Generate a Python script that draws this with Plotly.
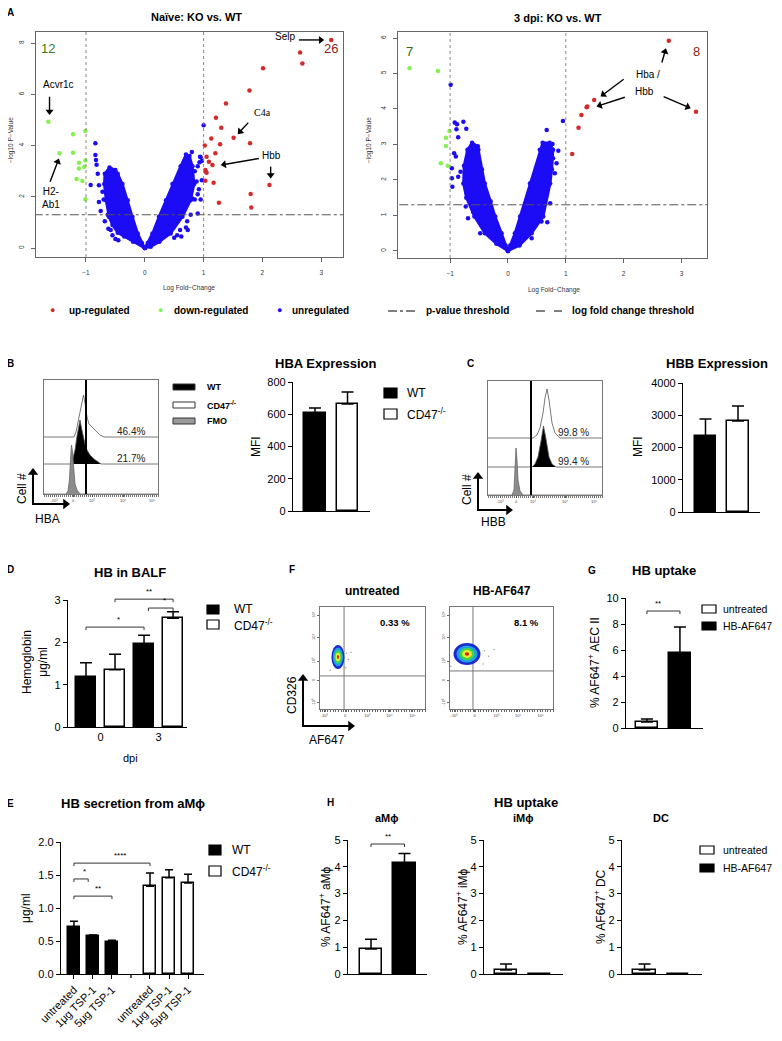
import math
import plotly.graph_objects as go

# page body has an 8px margin: the figure is sized/shifted so that its pixels land
# on the reference's 782x1041 window coordinates
PAGE_OFF = 8
W, H = 782, 1041
FW, FH = W - 2 * PAGE_OFF, H - 2 * PAGE_OFF
FONT = "Liberation Sans, Arial, sans-serif"
SERIF = "Liberation Serif, Times New Roman, serif"
BLUE = "#1c0cf5"
GREEN = "#86f04e"
RED = "#d42a2a"

# ================= DATA =================
# ---- A: volcano, naive (log fold change, -log10 p) ----
naive_up_lfc = [3.17, 2.64, 2.68, 2.01, 1.78, 1.38, 1.21, 1.30, 1.13, 1.51, 1.02, 1.28, 1.79,
                1.20, 1.05, 1.09, 1.15, 1.03, 1.05, 1.03, 1.17, 2.12, 1.80, 1.26, 1.81, 1.04]
naive_up_p = [8.13, 7.64, 7.21, 7.02, 6.15, 5.65, 5.09, 4.70, 4.28, 4.31, 4.01, 4.05, 4.09,
              3.70, 3.57, 3.37, 3.24, 3.05, 2.94, 2.63, 2.55, 2.46, 2.11, 1.77, 1.58, 2.98]
naive_down_lfc = [-1.64, -1.45, -1.22, -1.01, -1.22, -1.12, -1.12, -1.01, -1.16, -1.06, -1.01, -1.03]
naive_down_p = [4.93, 3.70, 4.45, 4.57, 3.72, 3.33, 3.11, 3.42, 2.70, 2.62, 1.91, 3.18]
naive_blue_lfc = [-0.84, -0.84, -0.83, -0.82, -0.92, -0.80, -0.78, -0.72, -0.70, -0.78, -0.75, -0.63,
                  -0.68, -0.62, -0.58, -0.55, -0.50, -0.45, 0.50, 0.55, 0.60, 0.70, 0.72, 0.78, 0.85,
                  0.90, 0.92, 0.95, 0.88, 0.85, 0.90, 0.95, 0.97, 0.93, 1.00, 0.94, 0.97, 0.80, 0.62,
                  0.81, 0.90, 0.73]
naive_blue_p = [4.09, 3.63, 3.44, 3.25, 2.46, 2.90, 2.45, 2.20, 1.90, 1.80, 1.45, 1.30,
                1.05, 0.75, 0.70, 0.50, 0.35, 0.30, 0.40, 0.50, 0.70, 0.80, 1.05, 1.30, 1.90,
                2.10, 2.30, 1.90, 2.60, 3.00, 3.20, 3.55, 2.65, 3.35, 4.80, 3.57, 3.40, 3.75, 0.45,
                1.94, 1.35, 0.70]
# dense cloud outline (naive)
naive_left_lfc = [0, -0.2, -0.35, -0.46, -0.55, -0.61, -0.66, -0.69, -0.68, -0.6, -0.5, -0.46,
                  -0.38, -0.29, -0.21, -0.12, -0.05, 0]
naive_left_p = [0, 0.25, 0.45, 0.6, 0.9, 1.22, 1.87, 2.5, 2.9, 3.15, 3.05, 2.9,
                2.5, 1.87, 1.22, 0.57, 0.2, 0]
naive_right_lfc = [0, 0.05, 0.13, 0.24, 0.36, 0.47, 0.61, 0.70, 0.76, 0.81, 0.84, 0.78, 0.64, 0.44,
                   0.25, 0.1, 0]
naive_right_p = [0, 0.2, 0.57, 1.22, 1.87, 2.5, 3.2, 3.65, 3.6, 3.2, 2.5, 1.87, 1.22, 0.57,
                 0.25, 0.05, 0]

# ---- A: volcano, 3 dpi ----
dpi_up_lfc = [2.78, 3.25, 1.49, 1.36, 1.27, 1.22, 1.11, 1.37]
dpi_up_p = [5.92, 3.92, 4.25, 4.05, 3.83, 3.47, 2.73, 4.07]
dpi_down_lfc = [-1.70, -1.21, -1.01, -1.07, -1.07, -1.16, -1.04]
dpi_down_p = [5.15, 5.07, 3.38, 3.19, 2.96, 2.47, 2.40]
dpi_blue_lfc = [-0.99, -0.92, -0.88, -0.77, -0.89, -0.72, -0.86, -0.93, -0.97, -0.97, -0.96, -0.90,
                -0.86, -0.82, -0.74, -0.70, -0.73, -0.69, -0.48, 0.67, 0.95, 0.87, 0.84, 0.81,
                0.77, 0.78, 0.73, 0.58, 0.68, 0.41, -0.60]
dpi_blue_p = [4.68, 3.62, 3.57, 3.64, 3.43, 3.44, 3.20, 2.75, 2.33, 2.05, 1.81, 2.66,
              2.09, 2.23, 2.19, 1.83, 1.25, 0.92, 0.50, 3.41, 3.66, 2.82, 2.47, 2.19,
              3.01, 2.61, 1.34, 0.83, 0.81, 0.36, 1.10]
dpi_left_lfc = [0, -0.2, -0.4, -0.58, -0.72, -0.77, -0.76, -0.70, -0.62, -0.52, -0.51, -0.45, -0.40,
                -0.30, -0.22, -0.11, -0.04, 0]
dpi_left_p = [0, 0.2, 0.5, 0.97, 1.5, 1.9, 2.4, 2.85, 3.05, 2.95, 2.85, 2.3, 1.9,
              1.4, 0.97, 0.5, 0.15, 0]
dpi_right_lfc = [0, 0.04, 0.12, 0.21, 0.38, 0.55, 0.60, 0.72, 0.78, 0.76, 0.73, 0.61, 0.41, 0.2, 0]
dpi_right_p = [0, 0.15, 0.5, 0.97, 1.9, 2.85, 3.05, 3.05, 2.85, 2.3, 1.9, 0.97, 0.5, 0.15, 0]

# ---- B/C: flow histograms (fluorescence position, count height) ----
hba_fmo_x = [0, 22, 24, 25.5, 26.5, 27.5, 28.5, 29.5, 31, 33, 36, 114]
hba_fmo_h = [0, 0, 3, 15, 35, 49, 42, 25, 10, 4, 0, 0]
hba_wt_x = [0, 27, 29, 31, 33, 34.5, 36, 37.5, 39, 41, 43, 46, 50, 54, 57, 114]
hba_wt_h = [0, 0, 6, 14, 28, 38, 44, 36, 28, 20, 14, 9, 5, 2, 0, 0]
hba_ko_x = [0, 30, 32, 34, 36, 38, 39.5, 41, 43, 45, 48, 52, 56, 60, 114]
hba_ko_h = [0, 0, 5, 15, 28, 38, 42, 34, 20, 13, 10, 6, 2, 0, 0]
hba_pct = ["46.4%", "21.7%"]
hbb_fmo_x = [0, 24, 26, 27, 28, 29, 30, 32, 35, 114]
hbb_fmo_h = [0, 0, 5, 25, 47, 35, 15, 4, 0, 0]
hbb_wt_x = [0, 44, 47, 50, 53, 55.5, 58, 61, 64, 68, 114]
hbb_wt_h = [0, 0, 3, 10, 26, 41, 28, 10, 3, 0, 0]
hbb_ko_x = [0, 45, 49, 52, 55, 57, 59, 61, 64, 67, 72, 114]
hbb_ko_h = [0, 0, 3, 10, 25, 40, 49, 38, 15, 5, 0, 0]
hbb_pct = ["99.8 %", "99.4 %"]
hist_tick_text = ["-10³", "0", "10³", "10⁴", "10⁵"]

# ---- B/C: MFI bars ----
genotypes = ["WT", "CD47<sup>-/-</sup>"]
hba_mfi = [608, 664]
hba_sem = [31, 74]
hbb_mfi = [2357, 2822]
hbb_sem = [527, 465]

# ---- D: HB in BALF ----
dpi_labels = ["0", "3"]
balf_wt = [1.18, 1.96]
balf_wt_sem = [0.34, 0.21]
balf_ko = [1.35, 2.57]
balf_ko_sem = [0.37, 0.15]

# ---- E: HB secretion ----
treatments = ["untreated", "1μg TSP-1", "5μg TSP-1"]
sec_wt = [0.71, 0.57, 0.49]
sec_wt_sem = [0.09, 0.02, 0.02]
sec_ko = [1.33, 1.46, 1.38]
sec_ko_sem = [0.20, 0.12, 0.13]

# ---- F: flow dot plots ----
f_titles = ["untreated", "HB-AF647"]
f_pct = ["0.33 %", "8.1 %"]
f_center_x = [17.1, 16.5]
f_center_y = [51.0, 53.9]
f_spread_x = [6.2, 13.1]
f_spread_y = [11.8, 10.8]
f_gate_x = [22.9, 22.3]
f_gate_y = [32.4, 37.3]

# ---- G: HB uptake AEC II ----
uptake_groups = ["untreated", "HB-AF647"]
aec_mean = [0.46, 5.77]
aec_sem = [0.23, 2.0]

# ---- H: HB uptake immune cells ----
cell_types = ["aMϕ", "iMϕ", "DC"]
cell_mean = [[0.93, 4.13], [0.15, 0.0], [0.15, 0.0]]
cell_sem = [[0.37, 0.37], [0.22, 0.0], [0.22, 0.0]]

# ================= FIGURE =================
fig = go.Figure()
layout = dict(width=FW, height=FH, margin=dict(l=0, r=0, t=0, b=0, pad=0), paper_bgcolor="white",
              plot_bgcolor="rgba(0,0,0,0)", showlegend=False, font=dict(family=FONT, color="black"))
ann, shp = [], []
ARROWS = []
AX = {}


def X(px):
    return (px - PAGE_OFF) / FW


def Y(py):
    return 1 - (py - PAGE_OFF) / FH


def axid(n):
    return ("x" if n == 1 else f"x{n}", "y" if n == 1 else f"y{n}")


def set_axes(n, xpx, ypx, xr, yr, xa=None, ya=None):
    xid, yid = axid(n)
    AX[n] = (xpx, ypx, xr, yr)
    xd = dict(domain=[X(xpx[0]), X(xpx[1])], range=xr, anchor=yid, showgrid=False, zeroline=False,
              automargin=False, fixedrange=True)
    yd = dict(domain=[Y(ypx[1]), Y(ypx[0])], range=yr, anchor=xid, showgrid=False, zeroline=False,
              automargin=False, fixedrange=True)
    xd.update(xa or {})
    yd.update(ya or {})
    layout["xaxis" if n == 1 else f"xaxis{n}"] = xd
    layout["yaxis" if n == 1 else f"yaxis{n}"] = yd


def d2p(n, x, y):
    xpx, ypx, xr, yr = AX[n]
    px = xpx[0] + (x - xr[0]) / (xr[1] - xr[0]) * (xpx[1] - xpx[0])
    py = ypx[1] - (y - yr[0]) / (yr[1] - yr[0]) * (ypx[1] - ypx[0])
    return px, py


def txt(px, py, s, size=11, bold=False, color="black", xanchor="center", angle=0, family=FONT):
    ann.append(dict(x=X(px), y=Y(py), xref="paper", yref="paper", text=(f"<b>{s}</b>" if bold else s),
                    showarrow=False, xanchor=xanchor, yanchor="middle", textangle=angle,
                    font=dict(size=size, color=color, family=family)))


def rect(x0, y0, x1, y1, fill, line="black", lw=1.2):
    shp.append(dict(type="rect", xref="paper", yref="paper", x0=X(x0), x1=X(x1), y0=Y(y1), y1=Y(y0),
                    fillcolor=fill, line=dict(color=line, width=lw)))


def pline(x0, y0, x1, y1, color="black", width=1, dash="solid"):
    shp.append(dict(type="line", xref="paper", yref="paper", x0=X(x0), x1=X(x1), y0=Y(y0), y1=Y(y1),
                    line=dict(color=color, width=width, dash=dash)))


def parrow(tx, ty, fx, fy, width=2, head=9):
    ARROWS.append((fx, fy, tx, ty, width, head))


def darrow(n, tx, ty, fx, fy, width=1.4, head=7):
    a = d2p(n, fx, fy)
    b = d2p(n, tx, ty)
    ARROWS.append((a[0], a[1], b[0], b[1], width, head))


def dtext(n, x, y, s, size=10, color="black", family=FONT):
    xid, yid = axid(n)
    ann.append(dict(x=x, y=y, xref=xid, yref=yid, text=s, showarrow=False,
                    font=dict(size=size, color=color, family=family)))


def bracket(n, x0, x1, y, label, drop=3, size=8):
    p0x, p0y = d2p(n, x0, y)
    p1x, _ = d2p(n, x1, y)
    shp.append(dict(type="path", xref="paper", yref="paper",
                    path=f"M {X(p0x)},{Y(p0y + drop)} L {X(p0x)},{Y(p0y)} L {X(p1x)},{Y(p0y)} L {X(p1x)},{Y(p0y + drop)}",
                    line=dict(color="#333", width=1)))
    ann.append(dict(x=X((p0x + p1x) / 2), y=Y(p0y - 1), xref="paper", yref="paper", text=label,
                    showarrow=False, yanchor="bottom", font=dict(size=size, color="black")))


# ---------- A: volcano plots ----------
r_x = dict(showline=True, mirror=True, linecolor="#666", linewidth=1, ticks="outside", ticklen=4,
           tickcolor="#666", tickfont=dict(size=6.5, color="#333"), tickvals=[-1, 0, 1, 2, 3],
           ticklabelstandoff=5)
r_y = dict(showline=True, mirror=True, linecolor="#666", linewidth=1, ticks="outside", ticklen=4,
           tickcolor="#666", tickfont=dict(size=6.5, color="#333"), tickangle=-90, ticklabelstandoff=4)

set_axes(1, (36, 343), (32, 257), [-1.85, 3.37], [-0.35, 8.44], r_x, dict(r_y, tickvals=[0, 2, 4, 6, 8]))
set_axes(2, (398, 707), (32, 258), [-1.9, 3.44], [-0.2, 6.17], r_x, dict(r_y, tickvals=[0, 1, 2, 3, 4, 5, 6]))


def volcano(n, arms, blue, down, up, yr):
    xid, yid = axid(n)
    for v in (-1, 1):
        shp.append(dict(type="line", xref=xid, yref=yid, x0=v, x1=v, y0=yr[0], y1=yr[1],
                        line=dict(color="#888", width=1, dash="dot")))
    for xs, ys in arms:
        fig.add_trace(go.Scatter(x=xs, y=ys, mode="lines+markers", fill="toself", fillcolor=BLUE,
                                 line=dict(color=BLUE, width=2.5), marker=dict(color=BLUE, size=4.5),
                                 xaxis=xid, yaxis=yid, hoverinfo="skip"))
    for (xs, ys), col in ((blue, BLUE), (down, GREEN), (up, RED)):
        fig.add_trace(go.Scatter(x=xs, y=ys, mode="markers", marker=dict(color=col, size=4.5),
                                 xaxis=xid, yaxis=yid, hoverinfo="skip"))
    shp.append(dict(type="line", xref=xid, yref=yid, x0=-2.5, x1=3.6, y0=1.3, y1=1.3,
                    line=dict(color="#555", width=1, dash="dashdot")))


volcano(1, [(naive_left_lfc, naive_left_p), (naive_right_lfc, naive_right_p)],
        (naive_blue_lfc, naive_blue_p), (naive_down_lfc, naive_down_p), (naive_up_lfc, naive_up_p),
        [-0.35, 8.44])
volcano(2, [(dpi_left_lfc, dpi_left_p), (dpi_right_lfc, dpi_right_p)],
        (dpi_blue_lfc, dpi_blue_p), (dpi_down_lfc, dpi_down_p), (dpi_up_lfc, dpi_up_p),
        [-0.2, 6.17])

# naive annotations
dtext(1, -1.64, 7.8, "12", size=13, color="#3d7a22")
dtext(1, 3.16, 7.8, "26", size=13, color="#8b1c1c")
dtext(1, 2.38, 8.26, "Selp", size=10)
darrow(1, 3.05, 8.13, 2.62, 8.13)
dtext(1, -1.47, 6.37, "Acvr1c", size=10)
darrow(1, -1.62, 5.2, -1.62, 5.91)
dtext(1, -1.6, 1.95, "H2-<br>Ab1", size=10)
darrow(1, -1.46, 3.5, -1.61, 2.59)
dtext(1, 2.0, 5.29, "C4a", size=10, family=SERIF)
darrow(1, 1.58, 4.45, 1.76, 4.9)
dtext(1, 2.15, 3.63, "Hbb", size=10)
darrow(1, 1.29, 3.24, 1.94, 3.5)
darrow(1, 2.14, 2.72, 2.14, 3.18)
# 3 dpi annotations
dtext(2, -1.70, 5.62, "7", size=13, color="#2f6b1a")
dtext(2, 3.25, 5.62, "8", size=13, color="#8b1c1c")
dtext(2, 2.42, 4.96, "Hba /", size=10)
dtext(2, 2.36, 4.48, "Hbb", size=10)
darrow(2, 2.73, 5.71, 2.66, 5.31)
darrow(2, 1.60, 4.35, 2.0, 4.84)
darrow(2, 1.53, 4.07, 2.02, 4.33)
darrow(2, 3.16, 4.02, 2.69, 4.35)

txt(10, 12, "A", 10, True)
txt(196, 17, "Naïve: KO vs. WT", 11, True)
txt(558, 18, "3 dpi: KO vs. WT", 11, True)
txt(189, 288, "Log Fold−Change", 6.5, color="#333")
txt(554, 290, "Log Fold−Change", 6.5, color="#333")
txt(11, 140, "−log10 P−Value", 6.5, color="#333", angle=-90)
txt(369, 140, "−log10 P−Value", 6.5, color="#333", angle=-90)

# volcano legend row
LY = 310
txt(52, LY, "●", 9, color=RED)
txt(67, LY, "up-regulated", 10, True, xanchor="left")
txt(160, LY, "●", 9, color=GREEN)
txt(172, LY, "down-regulated", 10, True, xanchor="left")
txt(279, LY, "●", 9, color=BLUE)
txt(290, LY, "unregulated", 10, True, xanchor="left")
pline(388, LY + 1, 416, LY + 1, width=1, dash="dashdot")
txt(424, LY, "p-value threshold", 10, True, xanchor="left")
pline(536, LY + 1, 562, LY + 1, width=1, dash="dash")
txt(570, LY, "log fold change threshold", 10, True, xanchor="left")

# ---------- B / C: histograms ----------
h_x = dict(showline=True, mirror=True, linecolor="#777", linewidth=1, ticks="outside", ticklen=2,
           tickcolor="#555", tickfont=dict(size=4, color="#444"),
           minor=dict(ticks="outside", ticklen=1.5, dtick=2, tickcolor="#777"))
h_y = dict(showline=True, mirror=True, linecolor="#777", linewidth=1, showticklabels=False, ticks="")


def histo(n, xpx, ypx, curves, gate, pct, tickvals):
    set_axes(n, xpx, ypx, [0, 114], [0, 114], dict(h_x, tickvals=tickvals, ticktext=hist_tick_text), h_y)
    xid, yid = axid(n)
    for xs, hs, base, fill, lc in curves:
        fig.add_trace(go.Scatter(x=xs, y=[base + h for h in hs], mode="lines", fill="toself",
                                 fillcolor=fill, line=dict(color=lc, width=0.8),
                                 xaxis=xid, yaxis=yid, hoverinfo="skip"))
    shp.append(dict(type="line", xref=xid, yref=yid, x0=gate, x1=gate, y0=0, y1=114,
                    line=dict(color="black", width=2)))
    ann.append(dict(x=103, y=curves[0][2] + 6, xref=xid, yref=yid, text=pct[0], showarrow=False,
                    xanchor="right", font=dict(size=10, color="#222")))
    ann.append(dict(x=103, y=curves[1][2] + 6, xref=xid, yref=yid, text=pct[1], showarrow=False,
                    xanchor="right", font=dict(size=10, color="#222")))


histo(3, (44, 158), (380, 494), [(hba_ko_x, hba_ko_h, 57, "rgba(255,255,255,0)", "#555"),
                                 (hba_wt_x, hba_wt_h, 30, "black", "#555"),
                                 (hba_fmo_x, hba_fmo_h, 0, "#8c8c8c", "#666")],
      42, hba_pct, [10, 29, 48, 79, 108])
histo(5, (488, 602), (381, 495), [(hbb_ko_x, hbb_ko_h, 57, "rgba(255,255,255,0)", "#555"),
                                  (hbb_wt_x, hbb_wt_h, 28, "black", "#555"),
                                  (hbb_fmo_x, hbb_fmo_h, 0, "#8c8c8c", "#666")],
      43, hbb_pct, [12, 28, 45, 77, 106])

# B legend
txt(10, 363, "B", 10, True)
for yy, fill, lab in ((387, "black", "WT"), (405, "white", "CD47<sup>-/-</sup>"), (421, "#9a9a9a", "FMO")):
    rect(173, yy - 3, 195, yy + 3, fill, "#333", 1)
    txt(205, yy, lab, 9, True, xanchor="left")
# cell # arrows
for (vx, vtop, vbot, hend, lab1x, lab1y, lab2x, lab2y, lab2) in (
        (33, 468, 504, 70, 22, 489, 47, 519, "HBA"),
        (478, 472, 510, 513, 467, 490, 494, 522, "HBB")):
    parrow(vx, vtop, vx, vbot + 1)
    parrow(hend, vbot, vx - 1, vbot)
    txt(lab1x, lab1y, "Cell #", 12, angle=-90)
    txt(lab2x, lab2y, lab2, 12)
txt(470, 363, "C", 10, True)

# ---------- bar chart style ----------
gp_y = dict(showline=True, linecolor="black", linewidth=1.3, ticks="outside", ticklen=4, tickwidth=1.3,
            tickcolor="black", tickfont=dict(size=11, family=FONT))
gp_x = dict(showline=True, linecolor="black", linewidth=1.3, showticklabels=False, ticks="")


def bars(n, pos, vals, sems, colors, width=0.66, cap=6):
    xid, yid = axid(n)
    fig.add_trace(go.Bar(x=pos, y=vals, width=width,
                         marker=dict(color=colors, line=dict(color="black", width=1.5)),
                         error_y=dict(type="data", symmetric=False, array=sems, arrayminus=[0] * len(sems),
                                      color="black", thickness=1.5, width=cap),
                         xaxis=xid, yaxis=yid, hoverinfo="skip", cliponaxis=False))


# B bars (HBA)
set_axes(4, (293, 370), (382, 511), [-0.677, 1.692], [0, 800], gp_x, dict(gp_y, dtick=200))
bars(4, [0, 1], hba_mfi, hba_sem, ["black", "white"])
txt(325, 363, "HBA Expression", 13, True)
txt(256, 447, "MFI", 12, angle=-90)
rect(384, 388, 397, 398, "black")
txt(405, 393, genotypes[0], 12, xanchor="left")
rect(384, 409, 397, 419, "white")
txt(405, 414, genotypes[1], 12, xanchor="left")

# C bars (HBB)
set_axes(6, (683, 760), (383, 512), [-0.692, 1.677], [0, 4000], gp_x, dict(gp_y, dtick=1000))
bars(6, [0, 1], hbb_mfi, hbb_sem, ["black", "white"])
txt(717, 363, "HBB Expression", 13, True)
txt(638, 447, "MFI", 12, angle=-90)

# ---------- D ----------
set_axes(7, (68, 187), (600, 727), [-0.62, 3.48], [0, 3],
         dict(gp_x, showticklabels=True, tickvals=[0.5, 2.5], ticktext=dpi_labels,
              tickfont=dict(size=11)), dict(gp_y, dtick=1))
bars(7, [0, 2], balf_wt, balf_wt_sem, ["black", "black"], cap=6)
bars(7, [1, 3], balf_ko, balf_ko_sem, ["white", "white"], cap=6)
bracket(7, 0, 2, 2.36, "*")
bracket(7, 1, 3, 3.02, "**")
bracket(7, 2.15, 3, 2.81, "*")
txt(10, 569, "D", 10, True)
txt(130, 572, "HB in BALF", 13, True)
txt(130, 758, "dpi", 11)
txt(35, 662, "Hemoglobin<br>μg/ml", 12, angle=-90)
rect(207, 605, 219, 614, "black")
txt(232, 609, genotypes[0], 12, xanchor="left")
rect(207, 620, 219, 629, "white")
txt(232, 625, genotypes[1], 12, xanchor="left")

# ---------- E ----------
set_axes(8, (61, 204), (842, 974), [-0.68, 6.84], [0, 2],
         dict(gp_x, showticklabels=True, tickvals=[0, 1, 2, 4, 5, 6],
              ticktext=treatments + treatments, tickangle=-45, ticks="outside", ticklen=4,
              tickwidth=1.3, tickcolor="black", tickfont=dict(size=11)),
         dict(gp_y, dtick=0.5, tickformat=".1f"))
bars(8, [0, 1, 2], sec_wt, sec_wt_sem, ["black"] * 3, cap=4)
bars(8, [4, 5, 6], sec_ko, sec_ko_sem, ["white"] * 3, cap=4)
gx, gy = d2p(8, 3, 0)
pline(gx, gy, gx, gy + 4, width=1.3)
bracket(8, 0, 4, 1.68, "****")
bracket(8, 0, 0.75, 1.44, "*")
bracket(8, 0, 2, 1.18, "**")
txt(10, 803, "E", 10, True)
txt(133, 803, "HB secretion from aMϕ", 13, True)
txt(26, 908, "μg/ml", 12, angle=-90)
rect(209, 845, 221, 855, "black")
txt(230, 850, genotypes[0], 12, xanchor="left")
rect(209, 866, 221, 876, "white")
txt(230, 871, genotypes[1], 12, xanchor="left")

# ---------- F ----------
f_x = dict(showline=True, mirror=True, linecolor="#777", linewidth=1, ticks="outside", ticklen=2,
           tickcolor="#666", tickvals=[4, 24, 45, 66, 88], ticktext=["-10³", "0", "10³", "10⁴", "10⁵"],
           tickfont=dict(size=4, color="#444"), minor=dict(ticks="outside", ticklen=1.5, dtick=2.5))
f_y = dict(showline=True, mirror=True, linecolor="#777", linewidth=1, ticks="outside", ticklen=2,
           tickcolor="#666", tickvals=[6, 28, 47, 70, 92], ticktext=["-10³", "0", "10³", "10⁴", "10⁵"],
           tickfont=dict(size=4, color="#444"), tickangle=-90)
blob_colors = ["#1a2bd0", "#1f9fe6", "#3cd64a", "#e9ef2e", "#e01e1e"]
blob_scale = [1.0, 0.78, 0.56, 0.36, 0.16]
for i, (xpx, n) in enumerate((((320, 425), 9), ((450, 553), 10))):
    set_axes(n, xpx, (607, 709), [0, 100], [0, 100], f_x, f_y)
    xid, yid = axid(n)
    shp.append(dict(type="line", xref=xid, yref=yid, x0=f_gate_x[i], x1=f_gate_x[i], y0=0, y1=100,
                    line=dict(color="#777", width=1)))
    shp.append(dict(type="line", xref=xid, yref=yid, x0=0, x1=100, y0=f_gate_y[i], y1=f_gate_y[i],
                    line=dict(color="#777", width=1)))
    for col, s in zip(blob_colors, blob_scale):
        shp.append(dict(type="circle", xref=xid, yref=yid,
                        x0=f_center_x[i] - f_spread_x[i] * s, x1=f_center_x[i] + f_spread_x[i] * s,
                        y0=f_center_y[i] - f_spread_y[i] * s, y1=f_center_y[i] + f_spread_y[i] * s,
                        fillcolor=col, line=dict(width=0)))
    txt((xpx[0] + xpx[1]) / 2, 591, f_titles[i], 12, True)
    ann.append(dict(x=88, y=85, xref=xid, yref=yid, text=f"<b>{f_pct[i]}</b>", showarrow=False,
                    xanchor="right", font=dict(size=9.5)))
    # sparse events around the population
    fig.add_trace(go.Scatter(x=[f_center_x[i] + f_spread_x[i] * d for d in (1.3, 1.6, 2.0, 1.2, -1.2)],
                             y=[f_center_y[i] + f_spread_y[i] * d for d in (0.3, -0.2, 0.4, -0.9, -1.1)],
                             mode="markers", marker=dict(color="#999", size=1.5),
                             xaxis=xid, yaxis=yid, hoverinfo="skip"))
txt(292, 569, "F", 10, True)
parrow(303, 674, 303, 727)
parrow(355, 726, 302, 726)
txt(292, 695, "CD326", 12, angle=-90)
txt(327, 740, "AF647", 12)

# ---------- G ----------
set_axes(11, (626, 703), (598, 728), [-0.636, 1.70], [0, 10], gp_x, dict(gp_y, dtick=2))
bars(11, [0, 1], aec_mean, aec_sem, ["white", "black"], cap=6)
bracket(11, 0, 1, 9.0, "**")
txt(592, 570, "G", 10, True)
txt(664, 570, "HB uptake", 13, True)
txt(594, 663, "% AF647<sup>+</sup> AEC II", 12, angle=-90)
rect(702, 605, 716, 613, "white")
txt(721, 609, uptake_groups[0], 10.5, xanchor="left")
rect(702, 622, 716, 630, "black")
txt(721, 626, uptake_groups[1], 10.5, xanchor="left")

# ---------- H ----------
h_panels = [((348, 427), [-0.687, 1.672], 387, 325), ((484, 563), [-0.657, 1.70], 523, 462),
            ((622, 702), [-0.672, 1.716], 661, 600)]
for i, (xpx, xr, tx, lx) in enumerate(h_panels):
    n = 12 + i
    set_axes(n, xpx, (840, 974), xr, [0, 5], gp_x, dict(gp_y, dtick=1))
    bars(n, [0, 1], cell_mean[i], cell_sem[i], ["white", "black"], cap=6)
    txt(tx, 818, cell_types[i], 11, True)
    txt(lx, 907, f"% AF647<sup>+</sup> {cell_types[i]}", 12, angle=-90)
bracket(12, 0, 1, 4.85, "**")
txt(330, 802, "H", 10, True)
txt(526, 802, "HB uptake", 13, True)
rect(700, 846, 714, 854, "white")
txt(721, 850, uptake_groups[0], 10.5, xanchor="left")
rect(700, 864, 714, 872, "black")
txt(721, 868, uptake_groups[1], 10.5, xanchor="left")

# ---------- arrows: overlay axis in page-pixel coordinates ----------
OV = 20
xo, yo = axid(OV)
layout["xaxis20"] = dict(domain=[0, 1], range=[PAGE_OFF, PAGE_OFF + FW], anchor=yo, visible=False,
                         fixedrange=True, automargin=False)
layout["yaxis20"] = dict(domain=[0, 1], range=[PAGE_OFF + FH, PAGE_OFF], anchor=xo, visible=False,
                         fixedrange=True, automargin=False)
for (fx, fy, tx, ty, width, head) in ARROWS:
    dx, dy = tx - fx, ty - fy
    L = math.hypot(dx, dy)
    ux, uy = dx / L, dy / L
    back = head * 0.5
    cx, cy = tx - ux * back, ty - uy * back
    ang = math.degrees(math.atan2(dx, -dy))
    fig.add_trace(go.Scatter(x=[fx, cx], y=[fy, cy], mode="lines", line=dict(color="black", width=width),
                             xaxis=xo, yaxis=yo, hoverinfo="skip"))
    fig.add_trace(go.Scatter(x=[cx], y=[cy], mode="markers",
                             marker=dict(symbol="triangle-up", size=head, angle=ang, color="black",
                                         line=dict(width=0)),
                             xaxis=xo, yaxis=yo, hoverinfo="skip", cliponaxis=False))

layout["annotations"] = ann
layout["shapes"] = shp
layout["bargap"] = 0
fig.update_layout(**layout)
fig.write_html("out.html")
